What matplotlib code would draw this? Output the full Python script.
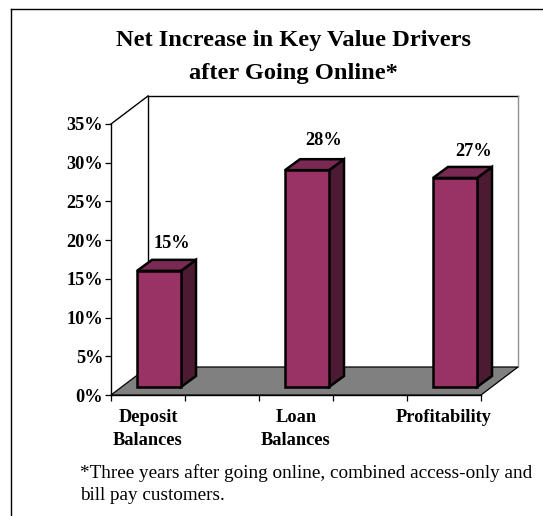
import matplotlib
matplotlib.use("Agg")
import matplotlib.pyplot as plt
from matplotlib.patches import Polygon
from matplotlib.transforms import Affine2D
from matplotlib.lines import Line2D

categories = ["Deposit\nBalances", "Loan\nBalances", "Profitability"]
values = [15, 28, 27]
value_labels = ["15%", "28%", "27%"]
y_ticks = [0, 5, 10, 15, 20, 25, 30, 35]
y_tick_labels = ["0%", "5%", "10%", "15%", "20%", "25%", "30%", "35%"]
slots = [0.5, 2.5, 4.5]
label_offsets = [(24, 35.5), (28, 38), (30, 34.5)]

W, H = 543, 516
plt.rcParams["font.family"] = ["Liberation Serif", "DejaVu Serif"]
fig = plt.figure(figsize=(W / 100, H / 100), dpi=100, facecolor="white")
ax = fig.add_axes([111 / W, (H - 395) / H, 370 / W, 271 / H])
ax.set_xlim(0, 5)
ax.set_ylim(0, 35)
ax.patch.set_alpha(0)
for s in ("top", "right"):
    ax.spines[s].set_visible(False)
for s in ("left", "bottom"):
    ax.spines[s].set_linewidth(1.0)
    ax.spines[s].set_color("black")
    ax.spines[s].set_zorder(6)

ax.set_yticks(y_ticks)
ax.set_yticklabels(y_tick_labels, fontsize=13.2, fontweight="bold")
ax.set_xticks(range(6))
ax.set_xticklabels([])
ax.tick_params(axis="both", length=4, width=0.9, color="black", pad=1.5)

def shifted(dx, dy):
    return ax.transData + Affine2D().translate(dx, dy)

# walls and floor
DX, DY = 37, 28
back = shifted(DX, DY)
floor_pts = [ax.transData.transform(p) for p in [(0, 0), (5, 0)]] + \
            [back.transform(p) for p in [(5, 0), (0, 0)]]
floor = Polygon(floor_pts, closed=True, transform=None, fc="#808080", ec="black", lw=0.9, zorder=1, clip_on=False)
fig.add_artist(floor)
ax.add_line(Line2D([0, 5], [35, 35], transform=back, color="black", lw=1.0, clip_on=False, zorder=1))
ax.add_line(Line2D([0, 0], [0, 35], transform=back, color="black", lw=1.0, clip_on=False, zorder=1))
ax.add_line(Line2D([5, 5], [0, 35], transform=back, color="#909090", lw=1.0, clip_on=False, zorder=1))
p0 = ax.transData.transform((0, 35))
p1 = back.transform((0, 35))
fig.add_artist(Line2D([p0[0], p1[0]], [p0[1], p1[1]], transform=None, color="black", lw=1.0))

# bars
HALF = 22 / 74
FX, FY = 11, 8
BX, BY = 15, 11
front_c, top_c, side_c = "#993366", "#7A2952", "#4D1A33"
for x, v in zip(slots, values):
    f = shifted(FX, FY)
    b = shifted(FX + BX, FY + BY)
    l, r = x - HALF, x + HALF
    fbl, fbr = f.transform((l, 0)), f.transform((r, 0))
    ftl, ftr = f.transform((l, v)), f.transform((r, v))
    bbr = b.transform((r, 0))
    btl, btr = b.transform((l, v)), b.transform((r, v))
    for pts, c in (([fbr, bbr, btr, ftr], side_c),
                   ([ftl, ftr, btr, btl], top_c),
                   ([fbl, fbr, ftr, ftl], front_c)):
        fig.add_artist(Polygon(pts, closed=True, transform=None, fc=c, ec="black", lw=1.8, joinstyle="miter", zorder=3))

# value labels
for x, v, t, (ox, oy) in zip(slots, values, value_labels, label_offsets):
    ax.annotate(t, (x, v), xytext=(ox, oy), textcoords="offset pixels", ha="center", va="center",
                fontsize=13.2, fontweight="bold", annotation_clip=False, zorder=7)

# category labels
for x, t in zip(slots, categories):
    ax.annotate(t, (x, 0), xytext=(0, -14), textcoords="offset pixels", ha="center", va="top",
                fontsize=13.2, fontweight="bold", linespacing=1.45, annotation_clip=False)

def px(x, y):
    return x / W, 1 - y / H

fig.text(*px(293, 38), "Net Increase in Key Value Drivers", ha="center", va="center_baseline",
         fontsize=17.6, fontweight="bold")
fig.text(*px(293, 71), "after Going Online*", ha="center", va="center_baseline",
         fontsize=17.6, fontweight="bold")
fig.text(*px(80, 478), "*Three years after going online, combined access-only and",
         ha="left", va="baseline", fontsize=13.8)
fig.text(*px(80, 500), "bill pay customers.", ha="left", va="baseline", fontsize=13.8)

# outer frame
fig.add_artist(Line2D([11, 11], [0, H - 9], transform=None, color="black", lw=1.0))
fig.add_artist(Line2D([11, W], [H - 9, H - 9], transform=None, color="black", lw=1.0))

fig.savefig("out.png", dpi=100)
